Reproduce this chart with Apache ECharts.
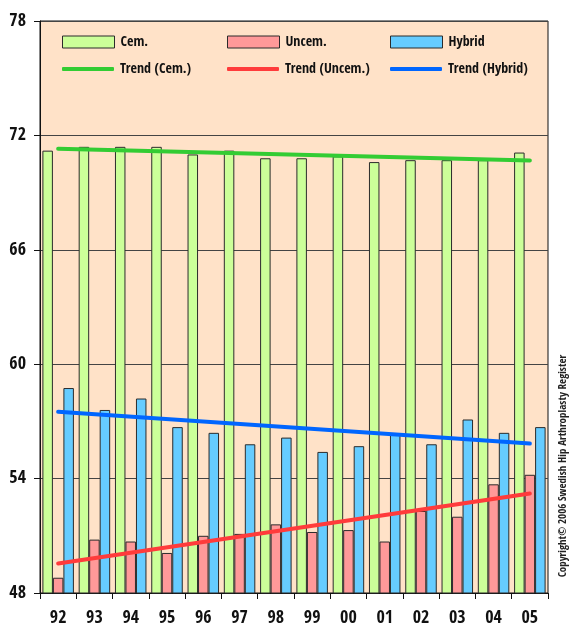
<!DOCTYPE html>
<html>
<head>
<meta charset="utf-8">
<script src="https://cdn.jsdelivr.net/npm/echarts@6/dist/echarts.min.js"></script>
<style>
  html, body { margin: 0; padding: 0; background: #ffffff; }
  #chart { width: 572px; height: 627px; }
</style>
</head>
<body>
<div id="chart"></div>
<script>
// Mean age at operation by year and fixation type
const years = ['92','93','94','95','96','97','98','99','00','01','02','03','04','05'];
const cemented   = [71.2, 71.4, 71.4, 71.4, 71.0, 71.2, 70.8, 70.8, 70.9, 70.6, 70.7, 70.7, 70.7, 71.1];
const uncemented = [48.8, 50.8, 50.7, 50.1, 51.0, 51.1, 51.6, 51.2, 51.3, 50.7, 52.3, 52.0, 53.7, 54.2];
const hybrid     = [58.75, 57.6, 58.2, 56.7, 56.4, 55.8, 56.15, 55.4, 55.7, 56.3, 55.8, 57.1, 56.4, 56.7];

// Linear trend lines: value at first and at last year
const trendCem    = [71.30, 70.69];
const trendUncem  = [49.55, 53.22];
const trendHybrid = [57.50, 55.84];

const yTicks = [48, 54, 60, 66, 72, 78];
const copyright = 'Copyright\u00A9 2006 Swedish Hip Arthroplasty Register';

const FONT = '"Open Sans Condensed", "Roboto Condensed", "Liberation Sans Narrow", "DejaVu Sans Condensed", sans-serif';

function trendData(ends) {
  return [[years[0], ends[0]], [years[years.length - 1], ends[1]]];
}

function barSeries(name, data, color) {
  return {
    name: name, type: 'bar', data: data,
    barWidth: 10.5, barGap: '0%',
    itemStyle: { color: color, borderColor: '#2b2b2b', borderWidth: 1 },
    z: 2
  };
}

function lineSeries(name, ends, color) {
  return {
    name: name, type: 'line', data: trendData(ends),
    symbol: 'none', showSymbol: false,
    lineStyle: { color: color, width: 4, cap: 'round' },
    itemStyle: { color: color },
    z: 5, silent: true, animation: false
  };
}

// One legend block per entry so the entries sit on a 3 x 2 layout
function legendAt(name, left, top, isLine) {
  return {
    data: [{ name: name, icon: isLine ? 'roundRect' : 'rect' }],
    left: left, top: top,
    itemWidth: 52, itemHeight: isLine ? 4 : 12, itemGap: 0, padding: 0,
    itemStyle: isLine ? { borderWidth: 0 } : { borderColor: '#2b2b2b', borderWidth: 1 },
    textStyle: { fontFamily: FONT, fontSize: 14, color: '#111', padding: [0, 0, 0, 1] },
    selectedMode: false
  };
}

const chart = echarts.init(document.getElementById('chart'), null, { renderer: 'canvas' });

chart.setOption({
  animation: false,
  backgroundColor: '#ffffff',
  grid: {
    left: 40, right: 24, top: 21, bottom: 33,
    show: true, backgroundColor: '#FFE2C8', borderColor: '#111', borderWidth: 1
  },
  legend: [
    legendAt('Cem.', 62, 35, false),
    legendAt('Uncem.', 227, 35, false),
    legendAt('Hybrid', 390, 35, false),
    legendAt('Trend (Cem.)', 62, 62, true),
    legendAt('Trend (Uncem.)', 227, 62, true),
    legendAt('Trend (Hybrid)', 390, 62, true)
  ],
  xAxis: {
    type: 'category', data: years, boundaryGap: true,
    axisLine: { lineStyle: { color: '#111', width: 1 } },
    axisTick: { show: true, length: 6, lineStyle: { color: '#111' } },
    axisLabel: { fontFamily: FONT, fontSize: 18, fontWeight: 'bold', color: '#111', margin: 16 },
    splitLine: { show: false }
  },
  yAxis: {
    type: 'value', min: yTicks[0], max: yTicks[yTicks.length - 1], interval: 6,
    axisLine: { show: true, lineStyle: { color: '#111', width: 1 } },
    axisTick: { show: true, length: 6, lineStyle: { color: '#111' } },
    axisLabel: { fontFamily: FONT, fontSize: 18, fontWeight: 'bold', color: '#111', margin: 14 },
    splitLine: { show: true, lineStyle: { color: '#444', width: 1 } }
  },
  series: [
    barSeries('Cem.', cemented, '#CCFF99'),
    barSeries('Uncem.', uncemented, '#FF9999'),
    barSeries('Hybrid', hybrid, '#66CCFF'),
    lineSeries('Trend (Cem.)', trendCem, '#33CC33'),
    lineSeries('Trend (Uncem.)', trendUncem, '#FF3B3B'),
    lineSeries('Trend (Hybrid)', trendHybrid, '#0066FF')
  ],
  graphic: [{
    type: 'text',
    x: 563, y: 466,
    rotation: Math.PI / 2,
    style: {
      text: copyright,
      fontFamily: FONT, fontSize: 11, fill: '#222',
      align: 'center', verticalAlign: 'middle'
    }
  }]
});
</script>
</body>
</html>
